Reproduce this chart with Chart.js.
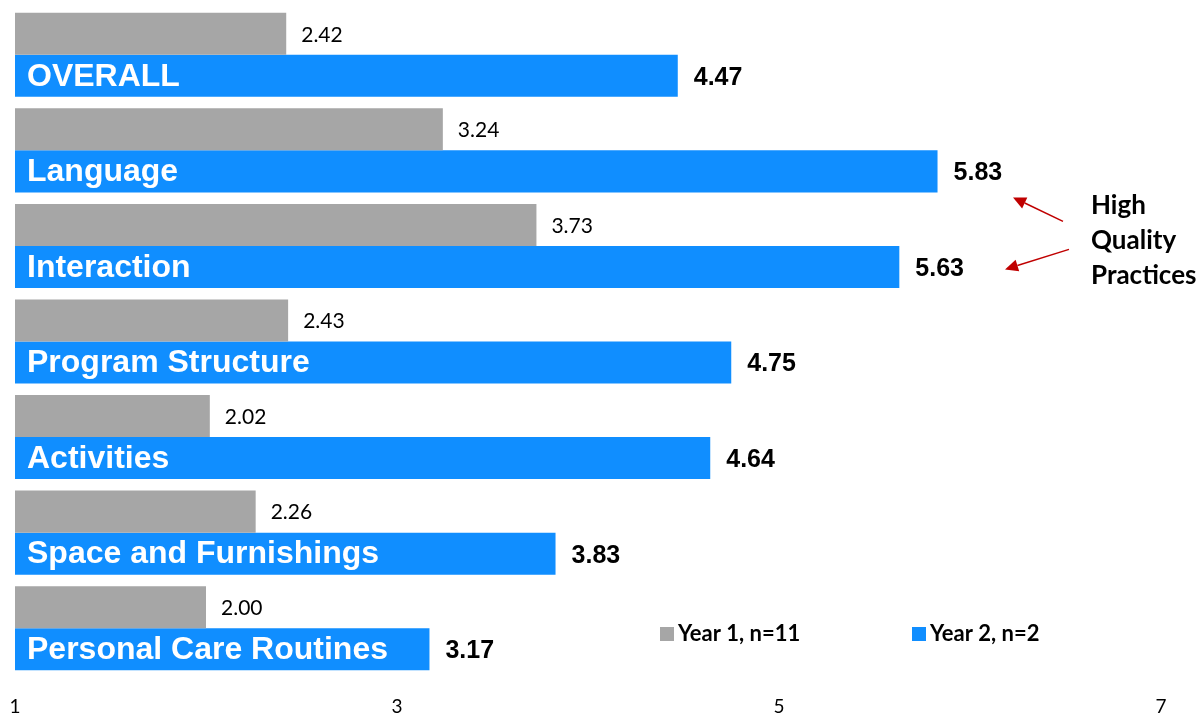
<!DOCTYPE html>
<html>
  <head>
    <title>Quality Ratings by Subscale</title>
    <meta charset="UTF-8">
    <style>
      body {
        margin: 0;
        background: #ffffff;
      }
      #canvas {
        display: block;
      }
    </style>
  </head>
  <body>
    <canvas id="canvas" width="1201" height="715"></canvas>
    <script src="https://cdn.jsdelivr.net/npm/chart.js@4/dist/chart.umd.min.js"></script>
    <script>
    // subscale scores, year 1 vs year 2
    var subscales = ['OVERALL', 'Language', 'Interaction', 'Program Structure', 'Activities', 'Space and Furnishings', 'Personal Care Routines'];
    var year1 = [2.42, 3.24, 3.73, 2.43, 2.02, 2.26, 2.00];
    var year2 = [4.47, 5.83, 5.63, 4.75, 4.64, 3.83, 3.17];
    var seriesNames = ['Year 1, n=11', 'Year 2, n=2'];
    var axisTicks = [1, 3, 5, 7];
    var noteLines = ['High', 'Quality', 'Practices'];

    var GRAY = '#A6A6A6';
    var BLUE = '#108EFF';
    var ARROW = '#C00000';

    // value labels, category names inside the blue bars, legend and the note
    var overlay = {
        id: 'overlay',
        afterDatasetsDraw: function(chart) {
            var ctx = chart.ctx;
            var area = chart.chartArea;
            var x0 = chart.scales.x.getPixelForValue(1);
            var g = chart.getDatasetMeta(0).data;
            var b = chart.getDatasetMeta(1).data;
            ctx.save();
            ctx.textBaseline = 'middle';
            ctx.textAlign = 'left';

            g.forEach(function(bar, i) {
                ctx.fillStyle = '#000';
                ctx.font = '21px Lato';
                ctx.fillText(year1[i].toFixed(2), bar.x + 15, bar.y + 1);
            });

            b.forEach(function(bar, i) {
                ctx.fillStyle = '#fff';
                ctx.font = 'bold 32px "Liberation Sans"';
                ctx.fillText(subscales[i], x0 + 12, bar.y + 1);
                ctx.fillStyle = '#000';
                ctx.font = 'bold 25px "Liberation Sans"';
                ctx.fillText(year2[i].toFixed(2), bar.x + 16, bar.y + 2);
            });

            // legend in the lower right of the plot
            var colors = [GRAY, BLUE];
            var lx = [area.left + 645, area.left + 897];
            var ly = area.bottom - 42;
            ctx.font = 'bold 22px Lato';
            for (var k = 0; k < 2; k++) {
                ctx.fillStyle = colors[k];
                ctx.fillRect(lx[k], ly - 7, 14, 14);
                ctx.fillStyle = '#000';
                ctx.fillText(seriesNames[k], lx[k] + 18, ly);
            }

            // note with arrows toward the two highest scores
            var nx = area.right + 1091 - 1161;
            var ny = b[1].y + 43;
            ctx.textBaseline = 'alphabetic';
            ctx.font = 'bold 26px Lato';
            noteLines.forEach(function(t, j) {
                ctx.fillText(t, nx, ny + j * 35);
            });
            drawArrow(ctx, nx - 28, ny + 7, nx - 78, ny - 17);
            drawArrow(ctx, nx - 22, ny + 35, nx - 86, ny + 55);
            ctx.restore();
        }
    };

    function drawArrow(ctx, x1, y1, x2, y2) {
        var ang = Math.atan2(y2 - y1, x2 - x1);
        var len = 13, wid = 6;
        var bx = x2 - Math.cos(ang) * len, by = y2 - Math.sin(ang) * len;
        ctx.strokeStyle = ARROW;
        ctx.fillStyle = ARROW;
        ctx.lineWidth = 1.5;
        ctx.beginPath();
        ctx.moveTo(x1, y1);
        ctx.lineTo(bx, by);
        ctx.stroke();
        ctx.beginPath();
        ctx.moveTo(x2, y2);
        ctx.lineTo(bx - Math.sin(ang) * wid, by + Math.cos(ang) * wid);
        ctx.lineTo(bx + Math.sin(ang) * wid, by - Math.cos(ang) * wid);
        ctx.closePath();
        ctx.fill();
    }

    var ctx = document.getElementById('canvas').getContext('2d');
    var chart = new Chart(ctx, {
        type: 'bar',
        data: {
            labels: subscales,
            datasets: [
                {
                    label: seriesNames[0],
                    backgroundColor: GRAY,
                    data: year1,
                    categoryPercentage: 0.88,
                    barPercentage: 1.0
                },
                {
                    label: seriesNames[1],
                    backgroundColor: BLUE,
                    data: year2,
                    categoryPercentage: 0.88,
                    barPercentage: 1.0
                }
            ]
        },
        options: {
            indexAxis: 'y',
            responsive: false,
            animation: false,
            layout: {
                padding: { top: 7, left: 15, right: 40, bottom: 0 }
            },
            plugins: {
                legend: { display: false },
                tooltip: { enabled: false }
            },
            scales: {
                y: {
                    display: false
                },
                x: {
                    min: 1,
                    max: 7,
                    afterFit: function(scale) {
                        scale.height = 39;
                        scale.paddingLeft = 0;
                        scale.paddingRight = 0;
                    },
                    afterBuildTicks: function(scale) {
                        scale.ticks = axisTicks.map(function(v) { return { value: v }; });
                    },
                    grid: { display: false, drawTicks: false },
                    border: { display: false },
                    ticks: {
                        color: '#000',
                        padding: 19,
                        maxRotation: 0,
                        font: { family: 'Lato', size: 19 }
                    }
                }
            }
        },
        plugins: [overlay]
    });
    </script>
  </body>
</html>
